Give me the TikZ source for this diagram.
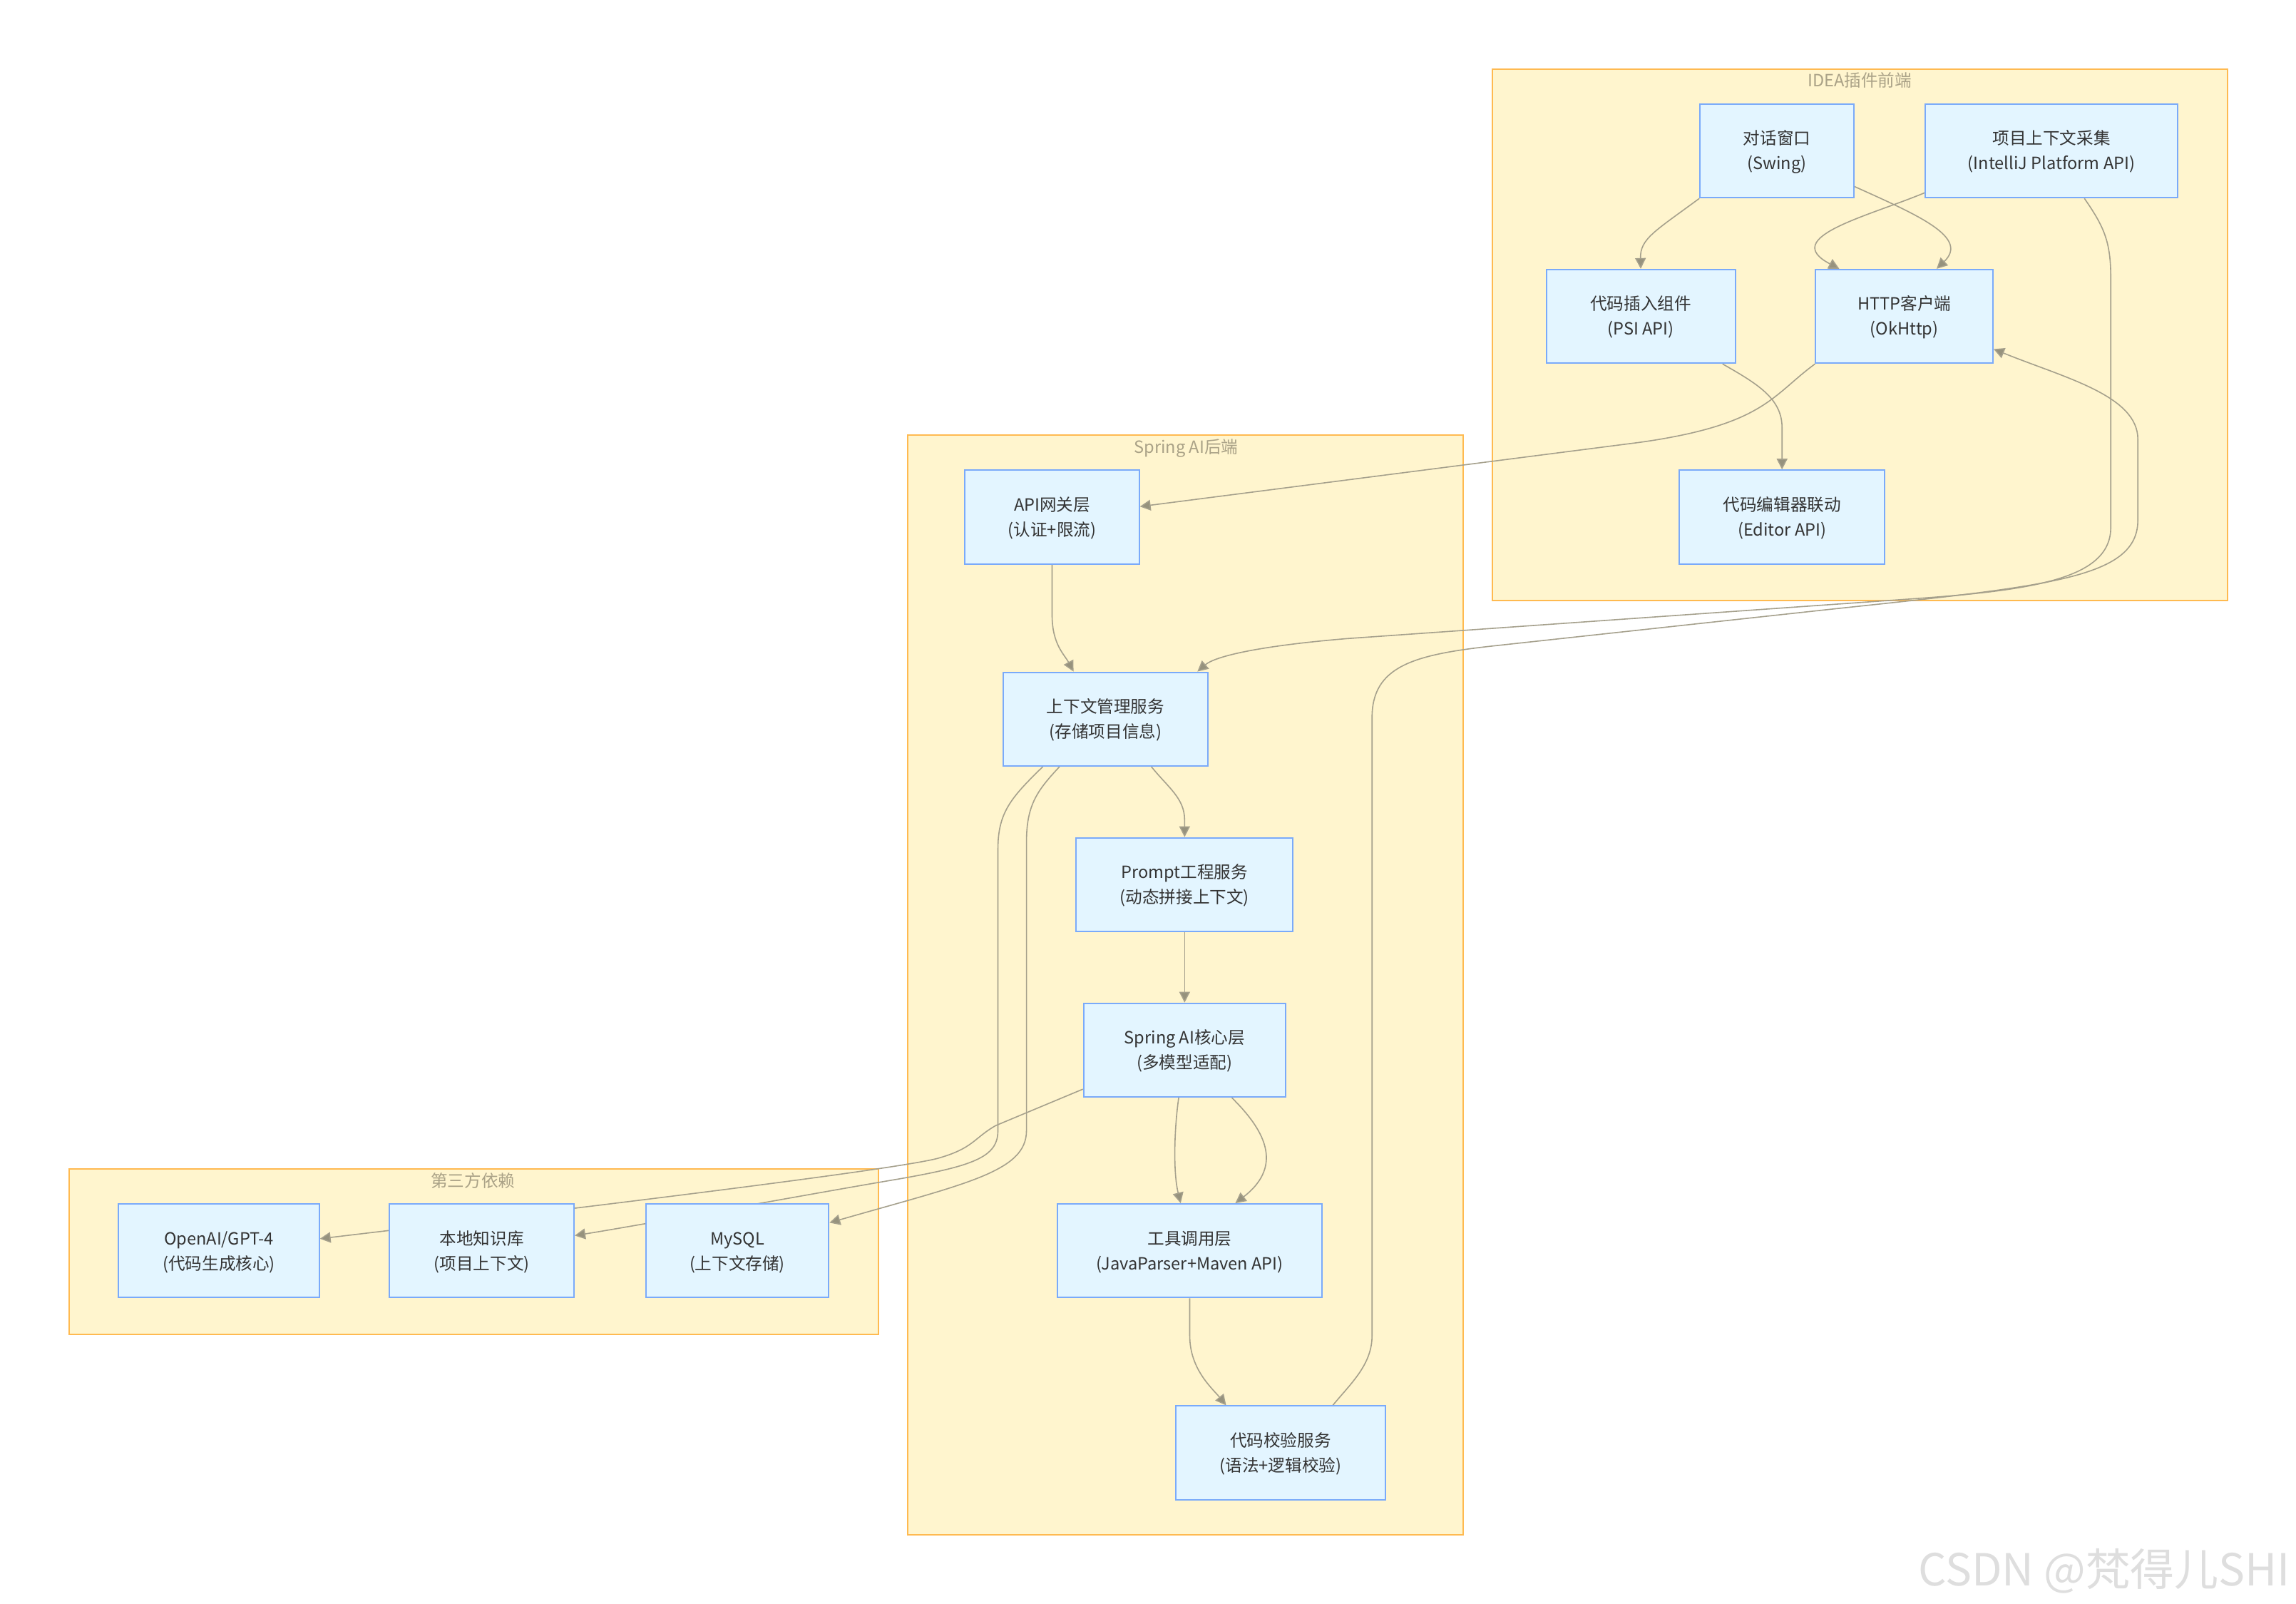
\documentclass[tikz,border=0pt]{standalone}
\usepackage{fontspec}
\setmainfont{Noto Sans CJK SC}
\usetikzlibrary{arrows.meta,calc,fit}
\pgfdeclarelayer{bg}
\pgfdeclarelayer{edges}
\pgfsetlayers{bg,edges,main}
\definecolor{clfill}{RGB}{255,245,206}
\definecolor{cldraw}{RGB}{255,186,80}
\definecolor{nfill}{RGB}{227,245,255}
\definecolor{ndraw}{RGB}{122,170,250}
\definecolor{ecol}{RGB}{165,160,140}
\definecolor{efill}{RGB}{150,146,125}
\definecolor{ttl}{RGB}{170,162,135}
\definecolor{txt}{RGB}{51,51,51}
\definecolor{wm}{RGB}{222,222,222}
\newcommand\twol[2]{\raisebox{-3.9pt}[0pt][0pt]{\begin{tabular}{@{}c@{}}#1\\#2\end{tabular}}}
\begin{document}
\begin{tikzpicture}[x=1.0268pt,y=-1.0268pt,
 box/.style={draw=ndraw,fill=nfill,line width=1pt,inner sep=0pt,font=\fontsize{11.8}{17.5}\selectfont,text=txt},
 cluster/.style={draw=cldraw,fill=clfill,line width=1pt,inner sep=0pt},
 ctitle/.style={font=\fontsize{11.8}{14}\selectfont,text=ttl,inner sep=0pt},
 edge/.style={draw=ecol,line width=0.8pt,-{Triangle[length=7.5pt,width=7.5pt,fill=efill]}},
]
\useasboundingbox (0,0) rectangle (1568,1095);
\begin{pgfonlayer}{bg}
\fill[white] (0,0) rectangle (1568,1095);
\node[cluster, fit={(1019,47) (1521,410)}] (cidea) {};
\node[cluster, fit={(620,297) (999,1048)}] (cspring) {};
\node[cluster, fit={(47,798) (600,911)}] (cthird) {};
\end{pgfonlayer}
\node[ctitle] (tidea) at (1270,55) {IDEA插件前端};
\node[ctitle] (tspring) at (810,306) {Spring AI后端};
\node[ctitle] (tthird) at (323,806) {第三方依赖};

% frontend
\node[box, fit={(1161,71) (1266,135)}] (dlg) {\twol{对话窗口}{(Swing)}};
\node[box, fit={(1315,71) (1487,135)}] (ctx) {\twol{项目上下文采集}{(IntelliJ Platform API)}};
\node[box, fit={(1056,184) (1185,248)}] (psi) {\twol{代码插入组件}{(PSI API)}};
\node[box, fit={(1240,184) (1361,248)}] (http) {\twol{HTTP客户端}{(OkHttp)}};
\node[box, fit={(1147,321) (1287,385)}] (editor) {\twol{代码编辑器联动}{(Editor API)}};
% backend
\node[box, fit={(659,321) (778,385)}] (api) {\twol{API网关层}{(认证+限流)}};
\node[box, fit={(685,459) (825,523)}] (mgr) {\twol{上下文管理服务}{(存储项目信息)}};
\node[box, fit={(735,572) (883,636)}] (prompt) {\twol{Prompt工程服务}{(动态拼接上下文)}};
\node[box, fit={(740,685) (878,749)}] (core) {\twol{Spring AI核心层}{(多模型适配)}};
\node[box, fit={(722,822) (903,886)}] (tool) {\twol{工具调用层}{(JavaParser+Maven API)}};
\node[box, fit={(803,960) (946,1024)}] (val) {\twol{代码校验服务}{(语法+逻辑校验)}};
% third party
\node[box, fit={(81,822) (218,886)}] (openai) {\twol{OpenAI/GPT-4}{(代码生成核心)}};
\node[box, fit={(266,822) (392,886)}] (kb) {\twol{本地知识库}{(项目上下文)}};
\node[box, fit={(441,822) (566,886)}] (mysql) {\twol{MySQL}{(上下文存储)}};

\node[anchor=base east, text=wm, inner sep=0pt, font=\fontsize{31}{31}\selectfont] (wmk) at (1564,1082.8) {CSDN @梵得儿SHI};

\begin{pgfonlayer}{edges}
\draw[edge] (dlg.south west) .. controls (1130,158) and (1120,163) .. (psi.north);
\draw[edge] ($(dlg.south east)!0.125!(dlg.north east)$) .. controls (1310,147) and (1345,162) .. ($(http.north west)!0.681!(http.north east)$);
\draw[edge] ($(ctx.north west)!0.94!(ctx.south west)$) .. controls (1275,148) and (1215,162) .. ($(http.north west)!0.136!(http.north east)$);
\draw[edge] ($(ctx.south west)!0.63!(ctx.south east)$) .. controls (1437,155) and (1441.5,165) .. (1441.5,190) -- (1441.5,360) .. controls (1441.5,395) and (1390,403) .. (1304,409) -- (920,436) .. controls (860,441) and (830,448) .. ($(mgr.north west)!0.945!(mgr.north east)$);
\draw[edge] (http.south west) .. controls (1210,270) and (1205,290) .. (1120,302) -- ($(api.north east)!0.39!(api.south east)$);
\draw[edge] ($(psi.south west)!0.93!(psi.south east)$) .. controls (1200,262) and (1217,272) .. (1217,292) -- (editor.north);
\draw[edge] (api.south) -- (718.5,420) .. controls (718.5,440) and (727,447) .. ($(mgr.north west)!0.345!(mgr.north east)$);
\draw[edge] ($(mgr.south west)!0.722!(mgr.south east)$) .. controls (798,538) and (809,545) .. (809,560) -- (prompt.north);
\draw[edge] (prompt.south) -- (core.north);
\draw[edge] ($(core.south west)!0.471!(core.south east)$) .. controls (802,770) and (801,800) .. ($(tool.north west)!0.466!(tool.north east)$);
\draw[edge] ($(core.south west)!0.732!(core.south east)$) .. controls (862,770) and (878,795) .. ($(tool.north west)!0.671!(tool.north east)$);
\draw[edge] (tool.south) -- (812.5,912) .. controls (812.5,935) and (828,948) .. ($(val.north west)!0.242!(val.north east)$);
\draw[edge] ($(val.north west)!0.748!(val.north east)$) .. controls (922,945) and (937,932) .. (937,912) -- (937,490) .. controls (937,455) and (965,447) .. (1020,441) -- (1250,416) .. controls (1400,400) and (1460,395) .. (1460,355) -- (1460,300) .. controls (1460,270) and (1410,258) .. ($(http.north east)!0.844!(http.south east)$);
\draw[edge] ($(core.north west)!0.91!(core.south west)$) -- (680,768.5) .. controls (665,777) and (665,784) .. (640,791) .. controls (600,801) and (300,836) .. ($(openai.north east)!0.373!(openai.south east)$);
\draw[edge] ($(mgr.south west)!0.196!(mgr.south east)$) .. controls (690,545) and (681.5,555) .. (681.5,580) -- (681.5,772) .. controls (681.5,790) and (665,796) .. (613.6,805) .. controls (560,814) and (440,836) .. ($(kb.north east)!0.34!(kb.south east)$);
\draw[edge] ($(mgr.south west)!0.277!(mgr.south east)$) .. controls (708,540) and (701,550) .. (701,575) -- (701,772) .. controls (701,800) and (660,808) .. ($(mysql.north east)!0.205!(mysql.south east)$);
\end{pgfonlayer}
\end{tikzpicture}
\end{document}
